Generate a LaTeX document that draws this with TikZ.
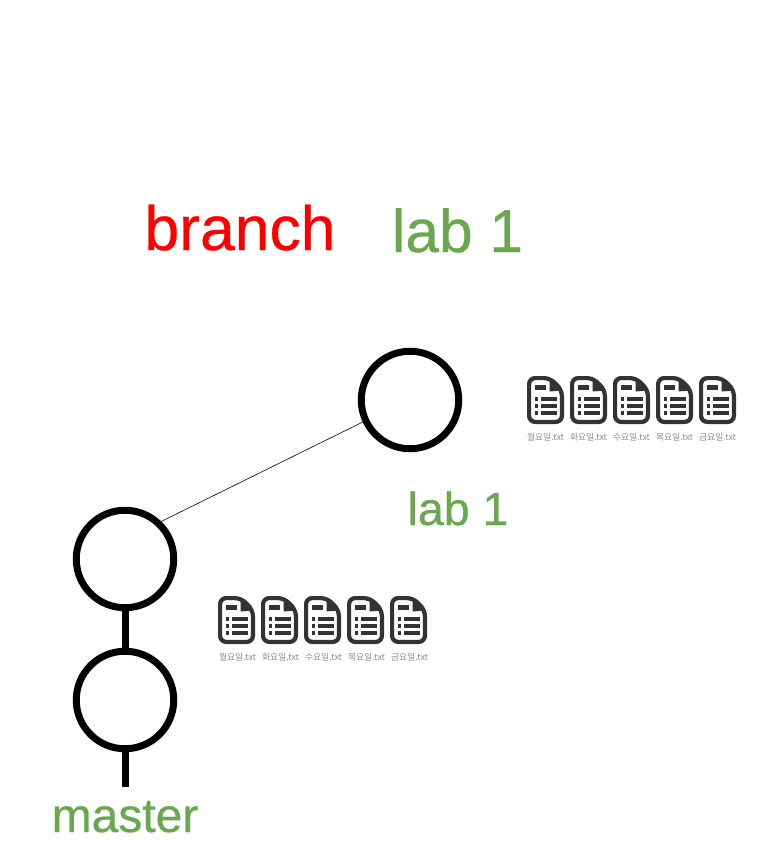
\documentclass[tikz,border=0pt]{standalone}
\usepackage{fontspec}
\setmainfont[FakeBold=0.5]{Liberation Sans}
\newfontfamily\krfont{Noto Sans CJK KR}
\definecolor{labgreen}{HTML}{6AA84F}
\definecolor{icondark}{HTML}{333333}
\tikzset{
  commit/.style={circle,draw=black,line width=7pt,minimum size=97.5pt,inner sep=0pt},
  stem/.style={draw=black,line width=7pt},
  twig/.style={draw=black,line width=0.6pt},
  biglabel/.style={anchor=base,inner sep=0pt},
  filelabel/.style={anchor=base,inner sep=0pt,text=black!45,font=\krfont\fontsize{8.8}{9}\selectfont},
  pics/docicon/.style={code={
    \draw[icondark,line width=4.2pt,line join=round,rounded corners=6pt]
      (2.1,2.1) -- (23,2.1) -- (34.9,14) -- (34.9,45.9) -- (2.1,45.9) -- cycle;
    \fill[icondark] (22.5,2) -- (35,14.5) -- (22.5,15.5) -- cycle;
    \fill[icondark] (8,9) rectangle (19,14);
    \foreach \r in {23,30,37}{
      \fill[icondark] (8,\r-1.6) rectangle (11,\r+1.6);
      \fill[icondark] (14,\r-1.6) rectangle (30,\r+1.6);
    }
  }}
}
\begin{document}
\begin{tikzpicture}[x=1pt,y=-1pt]
\useasboundingbox (0,0) rectangle (760,861);
\fill[white] (0,0) rectangle (760,861);
\node[biglabel,text=red,font=\fontsize{62.5}{70}\selectfont] (branch) at (240,250) {branch};
\node[biglabel,text=labgreen,font=\fontsize{60.5}{68}\selectfont] (labtop) at (457.5,252) {lab 1};
\node[biglabel,text=labgreen,font=\fontsize{46.5}{52}\selectfont] (labmid) at (458,525) {lab 1};
\node[biglabel,text=labgreen,font=\fontsize{48}{54}\selectfont] (masterlabel) at (125,832) {master};
\node[commit] (labcommit) at (410,400) {};
\node[commit] (upper) at (125,559) {};
\node[commit] (lower) at (125,700) {};
\coordinate (tail) at (125,787);
\draw[stem] (upper.south) -- (lower.north);
\draw[stem] (lower.south) -- (tail);
\draw[twig] (upper.46) -- (labcommit.205.6);
\foreach \x/\d in {527/월요일,570/화요일,613/수요일,656/목요일,699/금요일}{
  \pic at (\x,376) {docicon};
  \node[filelabel] at (\x+18.5,440) {\d.txt};
}
\foreach \x/\d in {218/월요일,261/화요일,304/수요일,347/목요일,390/금요일}{
  \pic at (\x,596) {docicon};
  \node[filelabel] at (\x+19.5,660) {\d.txt};
}
\end{tikzpicture}
\end{document}
